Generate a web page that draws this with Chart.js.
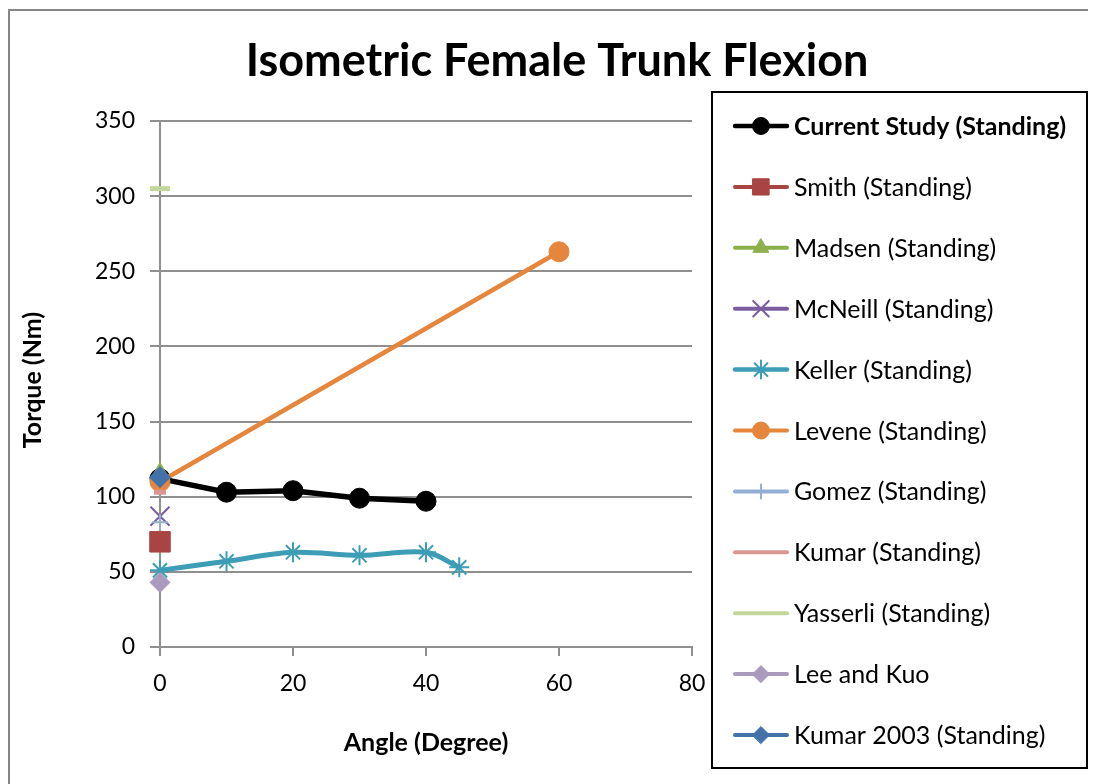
<!DOCTYPE html>
<html>
<head>
<meta charset="utf-8">
<title>Isometric Female Trunk Flexion</title>
<script src="https://cdn.jsdelivr.net/npm/chart.js@4/dist/chart.umd.min.js"></script>
<style>
  body { margin: 0; background: #fff; }
  #wrap { width: 1093px; height: 784px; }
</style>
</head>
<body>
<div id="wrap"><canvas id="flexchart" width="1093" height="784"></canvas></div>
<script>
// torque (Nm) against trunk angle (degrees), one pair of arrays per study
var seriesNames = ['Current Study (Standing)', 'Smith (Standing)', 'Madsen (Standing)', 'McNeill (Standing)',
  'Keller (Standing)', 'Levene (Standing)', 'Gomez (Standing)', 'Kumar (Standing)',
  'Yasserli (Standing)', 'Lee and Kuo', 'Kumar 2003 (Standing)'];

var currentAngle = [0, 10, 20, 30, 40];
var currentTorque = [112, 103, 104, 99, 97];
var smithAngle = [0];
var smithTorque = [70];
var madsenAngle = [0];
var madsenTorque = [116];
var mcneillAngle = [0];
var mcneillTorque = [87];
var kellerAngle = [0, 10, 20, 30, 40, 45];
var kellerTorque = [51, 57, 63, 61, 63, 53];
var leveneAngle = [0, 60];
var leveneTorque = [110, 263];
var gomezAngle = [0];
var gomezTorque = [83];
var kumarAngle = [0];
var kumarTorque = [103];
var yasserliAngle = [0];
var yasserliTorque = [305];
var leeKuoAngle = [0];
var leeKuoTorque = [43];
var kumar2003Angle = [0];
var kumar2003Torque = [113];

var yTicks = [0, 50, 100, 150, 200, 250, 300, 350];
var xTicks = [0, 20, 40, 60, 80];

var FONT = 'Lato, "Open Sans", sans-serif';
var GRID = '#8f8f8f';

function pts(xs, ys) {
  var out = [];
  for (var i = 0; i < xs.length; i++) out.push({x: xs[i], y: ys[i]});
  return out;
}

// look of each series: line colour, marker, marker size in plot / legend
var styles = [
  {c: '#000000', ps: 'circle', r: 10, lr: 8.5, bw: 1, lw: 5.5},
  {c: '#a94442', ps: 'rect', r: 14.5, lr: 11.5, bw: 1, lw: 4},
  {c: '#8db04a', ps: 'triangle', r: 10, lr: 9, bw: 1, lw: 4},
  {c: '#7a5d9e', ps: 'crossRot', r: 13.5, lr: 11, bw: 2, lw: 4},
  {c: '#3d9db6', ps: 'star', r: 10, lr: 9, bw: 2, lw: 5},
  {c: '#e5863c', ps: 'circle', r: 10, lr: 8.5, bw: 1, lw: 4.5},
  {c: '#93afd6', ps: 'cross', r: 8, lr: 7, bw: 2, lw: 4},
  {c: '#d99694', ps: 'line', r: 6, lr: 0, bw: 5, lw: 4},
  {c: '#c3d69b', ps: 'line', r: 10, lr: 0, bw: 5, lw: 4},
  {c: '#a99bbd', ps: 'rectRot', r: 10, lr: 8.5, bw: 1, lw: 4},
  {c: '#4372aa', ps: 'rectRot', r: 10.5, lr: 8.5, bw: 1, lw: 4}
];

var seriesData = [
  pts(currentAngle, currentTorque), pts(smithAngle, smithTorque), pts(madsenAngle, madsenTorque),
  pts(mcneillAngle, mcneillTorque), pts(kellerAngle, kellerTorque), pts(leveneAngle, leveneTorque),
  pts(gomezAngle, gomezTorque), pts(kumarAngle, kumarTorque), pts(yasserliAngle, yasserliTorque),
  pts(leeKuoAngle, leeKuoTorque), pts(kumar2003Angle, kumar2003Torque)
];

var datasets = seriesNames.map(function (name, i) {
  var s = styles[i];
  return {
    label: name,
    data: seriesData[i],
    borderColor: s.c,
    backgroundColor: s.c,
    borderWidth: s.lw,
    pointStyle: s.ps,
    pointRadius: s.r,
    pointBorderWidth: s.bw,
    pointBackgroundColor: s.c,
    pointBorderColor: s.c,
    tension: i == 4 ? 0.35 : 0,
    clip: false,
    order: seriesNames.length - i   // later series sit on top
  };
});

// page frame, title, axis titles and the boxed legend
var decorations = {
  id: 'decorations',
  beforeDraw: function (chart) {
    var ctx = chart.ctx;
    ctx.save();
    ctx.fillStyle = '#fff';
    ctx.fillRect(0, 0, chart.width, chart.height);
    ctx.strokeStyle = '#868686';
    ctx.lineWidth = 2;
    ctx.beginPath();
    ctx.moveTo(9, chart.height);
    ctx.lineTo(9, 10);
    ctx.lineTo(1088, 10);
    ctx.stroke();
    ctx.restore();
  },
  afterDraw: function (chart) {
    var ctx = chart.ctx;
    var area = chart.chartArea;
    ctx.save();
    ctx.fillStyle = '#000';
    ctx.textAlign = 'center';
    ctx.textBaseline = 'middle';

    ctx.font = 'bold 45px ' + FONT;
    ctx.fillText('Isometric Female Trunk Flexion', 557, 61);

    ctx.font = 'bold 25px ' + FONT;
    ctx.fillText('Angle (Degree)', (area.left + area.right) / 2, 743);
    ctx.save();
    ctx.translate(33, (area.top + area.bottom) / 2 - 4);
    ctx.rotate(-Math.PI / 2);
    ctx.fillText('Torque (Nm)', 0, 0);
    ctx.restore();

    // legend box
    ctx.strokeStyle = '#000';
    ctx.lineWidth = 2;
    ctx.strokeRect(712, 92, 375, 676);
    ctx.textAlign = 'left';
    chart.data.datasets.forEach(function (ds, i) {
      var s = styles[i];
      var y = 126 + i * 60.9;
      ctx.strokeStyle = s.c;
      ctx.lineWidth = s.lw >= 5 ? 4.5 : 4;
      ctx.lineCap = 'round';
      ctx.beginPath();
      ctx.moveTo(735, y);
      ctx.lineTo(787, y);
      ctx.stroke();
      if (s.lr > 0) {
        ctx.fillStyle = s.c;
        ctx.strokeStyle = s.c;
        ctx.lineWidth = s.bw;
        Chart.helpers.drawPoint(ctx, {pointStyle: s.ps, radius: s.lr, borderWidth: s.bw, rotation: 0}, 761, y);
      }
      ctx.fillStyle = '#000';
      ctx.font = (i == 0 ? 'bold ' : '') + '25px ' + FONT;
      ctx.fillText(ds.label, 794, y + 1);
    });
    ctx.restore();
  }
};

new Chart(document.getElementById('flexchart'), {
  type: 'line',
  data: {datasets: datasets},
  plugins: [decorations],
  options: {
    responsive: false,
    animation: false,
    devicePixelRatio: 1,
    layout: {padding: {left: 10, top: 121, right: 401, bottom: 0}},
    plugins: {legend: {display: false}, tooltip: {enabled: false}, title: {display: false}},
    scales: {
      x: {
        type: 'linear',
        min: 0,
        max: 80,
        afterFit: function (scale) { scale.height = 137; },
        afterBuildTicks: function (scale) { scale.ticks = xTicks.map(function (v) { return {value: v}; }); },
        grid: {drawOnChartArea: false, drawTicks: true, tickLength: 9, color: GRID, lineWidth: 2},
        border: {display: true, color: GRID, width: 2},
        ticks: {color: '#000', font: {family: FONT, size: 23}, padding: 14, maxRotation: 0}
      },
      y: {
        type: 'linear',
        min: 0,
        max: 350,
        afterFit: function (scale) { scale.width = 150; },
        afterBuildTicks: function (scale) { scale.ticks = yTicks.map(function (v) { return {value: v}; }); },
        grid: {drawTicks: true, tickLength: 10, color: GRID, lineWidth: 2},
        border: {display: true, color: GRID, width: 2},
        ticks: {color: '#000', font: {family: FONT, size: 23}, padding: 15}
      }
    }
  }
});
</script>
</body>
</html>
